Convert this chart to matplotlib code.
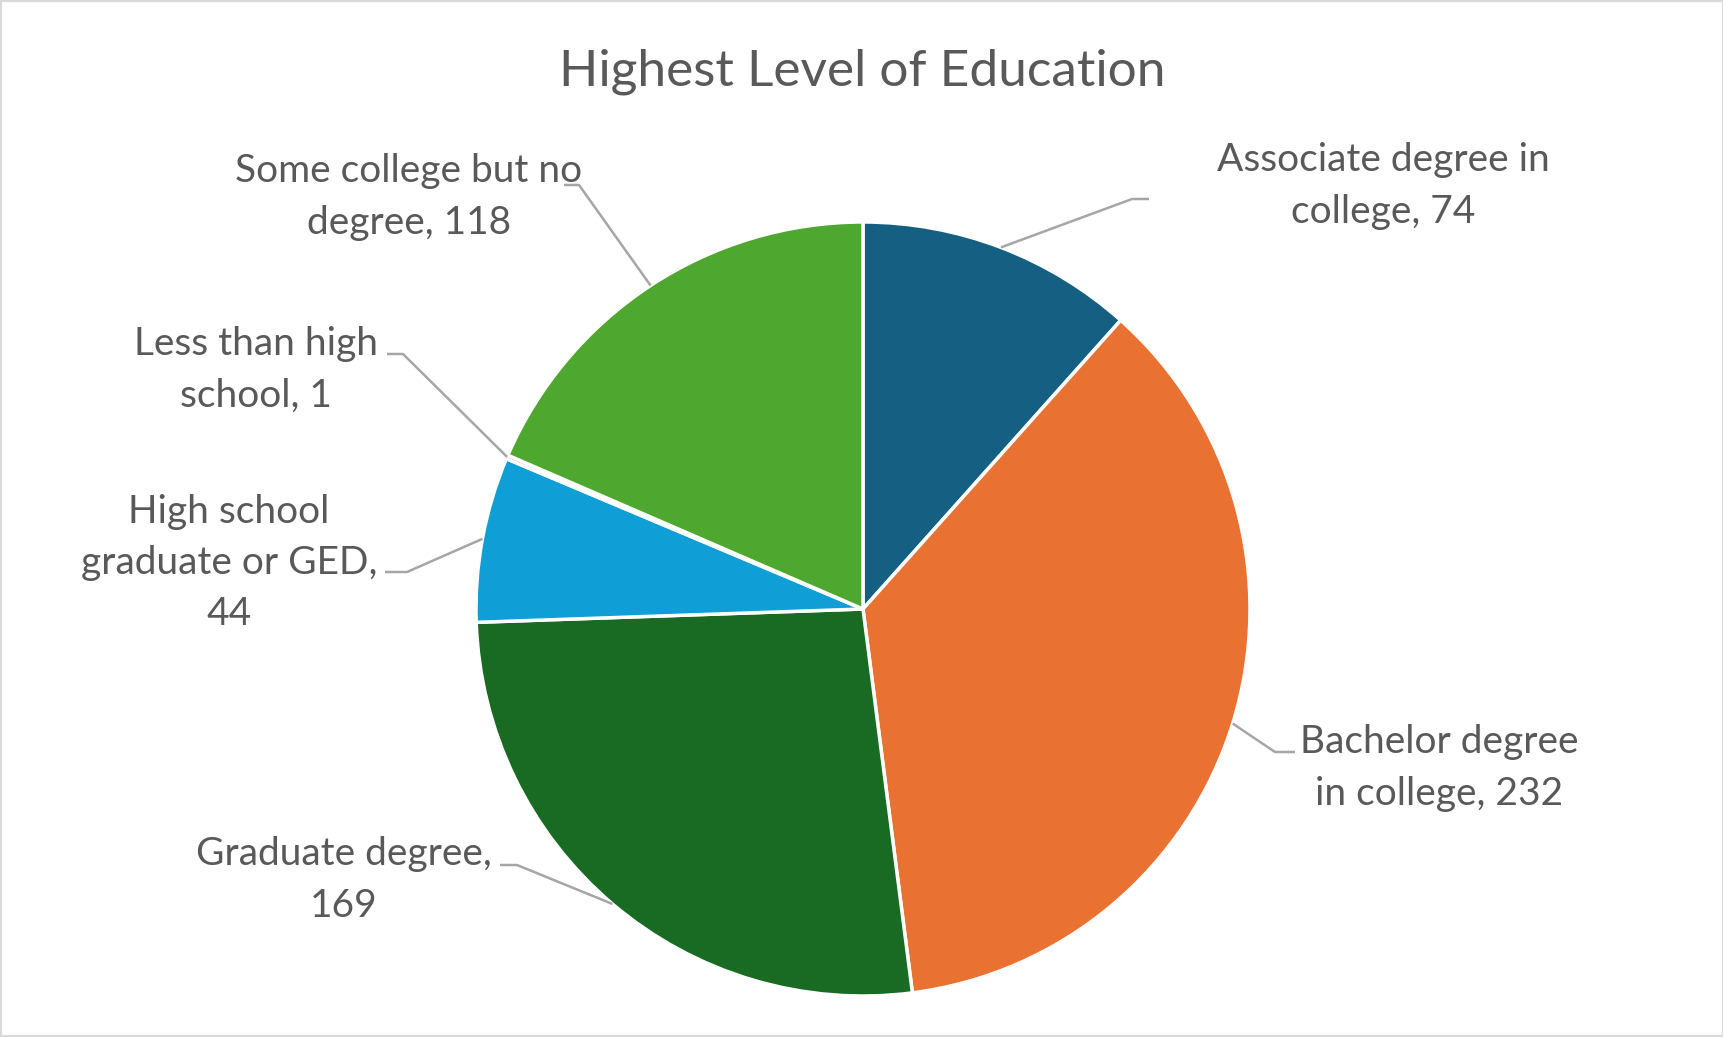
import numpy as np
import matplotlib.pyplot as plt
from matplotlib.patches import Rectangle

# data
labels = ["Associate degree in\ncollege, 74", "Bachelor degree\nin college, 232",
          "Graduate degree,\n169", "High school\ngraduate or GED,\n44",
          "Less than high\nschool, 1", "Some college but no\ndegree, 118"]
values = [74, 232, 169, 44, 1, 118]
colors = ["#156082", "#E97132", "#196B24", "#0F9ED5", "#A02B93", "#4EA72E"]

# label layout (pixel coords, y from top): text centre, elbow, elbow end
text_pos = [(1383, 186), (1439, 768), (344, 880), (229, 563), (256, 370), (409, 197)]
elbows = [((1132, 199), (1149, 199)), ((1275, 752), (1295, 752)),
          ((517, 865), (500, 865)), ((407, 572), (385, 572)),
          ((403, 354), (387, 354)), ((579, 185), (564, 185))]

W, H = 1724, 1037
FONT = ["Lato", "DejaVu Sans"]
TXT = "#595959"

fig = plt.figure(figsize=(W / 100, H / 100), dpi=100)
ax = fig.add_axes([0, 0, 1, 1])

cx, cy, r = 863, H - 609, 387
wedges, _ = ax.pie(values, colors=colors, startangle=90, counterclock=False,
                   center=(cx, cy), radius=r, frame=True,
                   wedgeprops=dict(edgecolor="white", linewidth=2.5))
ax.set_xlim(0, W)
ax.set_ylim(0, H)
ax.set_aspect("auto")
ax.axis("off")

for w, lab, tp, (e1, e2) in zip(wedges, labels, text_pos, elbows):
    # leader line starts on the rim at the slice's middle angle
    mid = np.deg2rad((w.theta1 + w.theta2) / 2)
    ax_x = cx + r * np.cos(mid)
    ax_y = cy + r * np.sin(mid)
    ax.plot([ax_x, e1[0], e2[0]], [ax_y, H - e1[1], H - e2[1]],
            color="#A6A6A6", lw=1.8, solid_capstyle="butt")
    ax.text(tp[0], H - tp[1], lab, ha="center", va="center", fontsize=28,
            color=TXT, family=FONT, linespacing=1.52)

ax.text(862, H - 72, "Highest Level of Education", ha="center", va="center",
        fontsize=37, color=TXT, family=FONT)

fig.patches.append(Rectangle((0, 0), 1, 1, transform=fig.transFigure,
                             fill=False, edgecolor="#D9D9D9", lw=3))

fig.savefig("out.png", dpi=100, facecolor="white")
